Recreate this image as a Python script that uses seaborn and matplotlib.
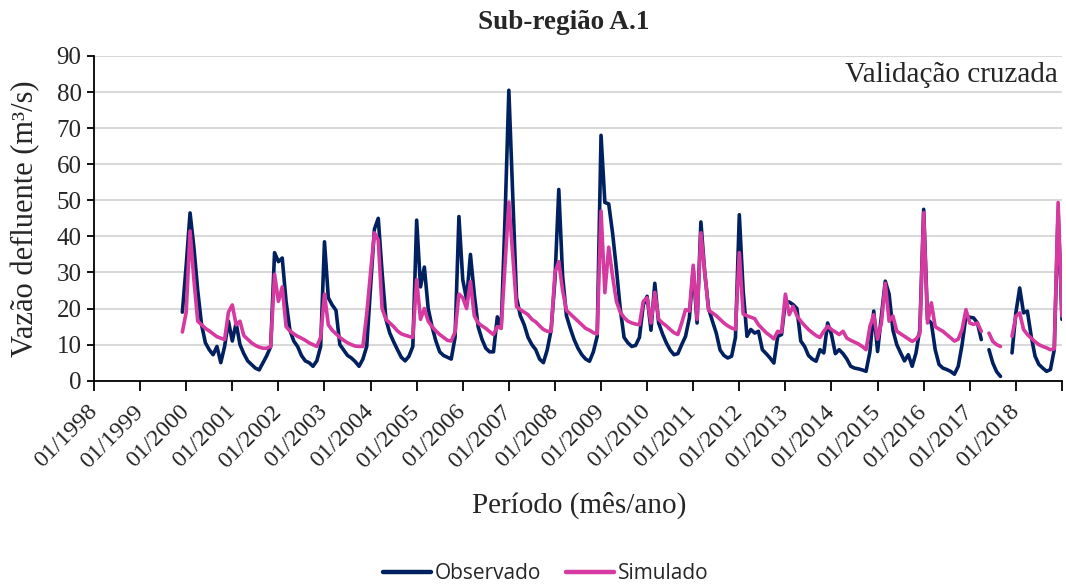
import numpy as np
import pandas as pd
import matplotlib
matplotlib.use("Agg")
import matplotlib.pyplot as plt
from matplotlib.lines import Line2D
import seaborn as sns

nan = np.nan

# Monthly discharge (m³/s), Dec/1999 .. Jan/2019; NaN = missing month
observado = [
    19,
    32, 46.5, 37, 25, 15.5, 10.5, 8.6, 7.2, 9.5, 5, 9.5, 16.5,          # 2000
    11, 16, 10, 7.5, 5.5, 4.5, 3.5, 3, 5, 7, 9.5, 35.5,                  # 2001
    33, 34, 22, 14, 11, 9.5, 7, 5.5, 5, 4, 5.5, 9.5,                     # 2002
    38.5, 23, 21, 19.5, 10, 8.5, 7, 6.3, 5.3, 4, 6, 9.5,                 # 2003
    26, 42, 45, 30, 17, 13.2, 10.8, 8.6, 6.5, 5.5, 6.8, 9.5,             # 2004
    44.5, 26, 31.5, 20, 15, 11, 8, 7, 6.5, 6, 12, 45.5,                  # 2005
    28, 22.5, 35, 24, 15, 11.5, 9, 8, 8, 17.7, 14.6, 45,                 # 2006
    80.5, 52, 23, 18, 15.5, 12, 10, 8.6, 6, 5, 8.6, 14,                  # 2007
    28, 53, 29, 18, 14.5, 11.4, 9, 7.2, 6, 5.4, 8, 12.3,                 # 2008
    68, 49.4, 49, 41, 31, 20, 12, 10.5, 9.5, 9.8, 12, 21,                # 2009
    23.4, 14, 27, 16, 13, 10.5, 8.5, 7.2, 7.5, 10, 12.3, 17.4,           # 2010
    31, 16, 44, 30, 20, 16.5, 13.2, 8.5, 7, 6.3, 6.8, 12,                # 2011
    46, 25, 12.3, 14.2, 13.2, 13.7, 8.6, 7.5, 6.3, 4.9, 12.3, 12.8,      # 2012
    22, 21.8, 21.1, 20, 11, 9.5, 7, 6, 5.4, 8.6, 7.7, 16,                # 2013
    12.8, 7.5, 8.6, 7.5, 6, 4, 3.5, 3.3, 3, 2.6, 8, 19.3,                # 2014
    8.1, 18, 27.6, 24, 14, 10, 7.7, 5.5, 7.2, 4, 7.7, 14.2,              # 2015
    47.5, 17, 16, 8.6, 4.5, 3.5, 3.1, 2.6, 1.8, 4, 10, 17.9,             # 2016
    17.6, 17.4, 16, 11.4, nan, 8.6, 4.9, 2.5, 1.2, nan, nan, 7.7,        # 2017
    18.8, 25.7, 18.8, 19.3, 12.3, 6.8, 4.5, 3.5, 2.6, 3.1, 8.6, 47,      # 2018
    17,
]

simulado = [
    13.5,
    19, 41.5, 28, 16.5, 15.5, 14.5, 13.8, 13, 12.2, 11.8, 11.4, 19,      # 2000
    21, 15.5, 16.5, 12.5, 11.5, 10.5, 9.8, 9.3, 9, 9, 9.5, 29.5,         # 2001
    22, 26, 15, 13.8, 13, 12.3, 11.8, 11.2, 10.5, 10, 9.5, 12,           # 2002
    24, 15.5, 14, 13, 12, 11.2, 10.5, 10, 9.6, 9.5, 9.5, 18.5,           # 2003
    30, 41, 39, 20, 17, 16, 15, 13.8, 13, 12.6, 12.3, 12,                # 2004
    28, 17, 20, 16.5, 15, 13.8, 12.8, 12, 11.2, 11, 13.5, 24,            # 2005
    23, 20, 27.5, 18, 16, 15.2, 14.5, 13.6, 12.8, 15, 14.5, 32,          # 2006
    49.5, 35, 20.5, 19.7, 19, 18.3, 17, 16.3, 15.2, 14.2, 13.7, 13.7,    # 2007
    30, 33, 25, 19.5, 18.5, 17.5, 16.5, 15.5, 14.5, 14, 13.3, 13,        # 2008
    47, 24.4, 37, 29, 22, 19, 17.5, 16.5, 16, 15.7, 15.5, 22,            # 2009
    23, 16, 24.5, 17, 16, 15.2, 14.2, 13.3, 12.8, 16, 19.7, 19.3,        # 2010
    32, 17, 41, 30, 19.5, 18.8, 18, 17, 16, 15.2, 14.6, 14.2,            # 2011
    35.5, 18.5, 18, 17.6, 17.2, 15.5, 14.4, 13.3, 12.5, 11.6, 13.7, 13.5,  # 2012
    24, 18.3, 20.6, 18, 16.5, 15.3, 14.2, 13.3, 12.5, 12, 13.7, 15.1,    # 2013
    14.2, 13.5, 12.8, 13.7, 11.8, 11.2, 10.7, 10.2, 9.5, 8.6, 15, 18.3,  # 2014
    11.5, 16, 27, 16.5, 17.9, 13.7, 13, 12.3, 11.6, 10.9, 11.5, 13,      # 2015
    46.6, 16, 21.6, 15, 14.3, 13.7, 12.8, 11.9, 11, 11.5, 14.2, 19.7,    # 2016
    16, 15.6, 16, 13.7, nan, 13.2, 10.9, 10, 9.5, nan, nan, 12.3,        # 2017
    17.9, 18.8, 14.2, 12.8, 11.8, 10.8, 10, 9.5, 9.1, 8.6, 8.8, 49.4,    # 2018
    17.9,
]

series_names = ["Observado", "Simulado"]
series_colors = ["#002060", "#D6399F"]
first_month = 23          # Dec/1999, counted in months from Jan/1998
tick_labels = ["01/1998", "01/1999", "01/2000", "01/2001", "01/2002", "01/2003",
               "01/2004", "01/2005", "01/2006", "01/2007", "01/2008", "01/2009",
               "01/2010", "01/2011", "01/2012", "01/2013", "01/2014", "01/2015",
               "01/2016", "01/2017", "01/2018", ""]

# Long table; each run of valid months becomes its own unit so gaps stay open
frames = []
for name, vals in zip(series_names, [observado, simulado]):
    v = np.asarray(vals, dtype=float)
    mes = first_month + np.arange(len(v))
    trecho = np.cumsum(np.isnan(v))
    d = pd.DataFrame({"mes": mes, "vazao": v, "serie": name,
                      "trecho": [f"{name}-{t}" for t in trecho]})
    frames.append(d.dropna())
df = pd.concat(frames, ignore_index=True)

sns.set_style("white")
plt.rcParams["font.family"] = ["Liberation Serif", "DejaVu Serif"]

fig = plt.figure(figsize=(10.66, 5.85), dpi=100)
ax = fig.add_axes([0.0882, 0.3492, 0.908, 0.5551])

sns.lineplot(data=df, x="mes", y="vazao", hue="serie", units="trecho",
             estimator=None, palette=dict(zip(series_names, series_colors)),
             hue_order=series_names, linewidth=2.6, legend=False, ax=ax)

ax.set_xlim(0, 252)
ax.set_ylim(0, 90)
ax.set_yticks(range(0, 91, 10))
ax.set_xticks(range(0, 253, 12))
ax.set_xticklabels(tick_labels, rotation=45, ha="right", va="center",
                   rotation_mode="anchor", fontsize=17.5)
ax.tick_params(axis="y", labelsize=18, direction="out", length=5, width=1.3,
               color="black", pad=4, left=True)
ax.tick_params(axis="x", direction="out", length=7, width=1.3, color="black",
               pad=13, bottom=True)
ax.grid(axis="y", color="#d9d9d9", linewidth=1.5)
ax.set_axisbelow(True)
for s in ["top", "right"]:
    ax.spines[s].set_visible(False)
for s in ["left", "bottom"]:
    ax.spines[s].set_color("black")
    ax.spines[s].set_linewidth(1.3)
ax.set_xlabel("")
ax.set_ylabel("")

fig.text(0.529, 0.961, "Sub-região A.1", ha="center", va="center",
         fontsize=19.5, fontweight="bold")
fig.text(0.9925, 0.872, "Validação cruzada", ha="right", va="center", fontsize=21)
fig.text(0.024, 0.627, "Vazão defluente (m³/s)", ha="center", va="center",
         rotation=90, fontsize=22)
fig.text(0.543, 0.137, "Período (mês/ano)", ha="center", va="center", fontsize=21)

handles = [Line2D([], [], color=c, linewidth=3.2) for c in series_colors]
fig.legend(handles, series_names, loc="center", bbox_to_anchor=(0.512, 0.02),
           ncol=2, frameon=False, handlelength=2.3, handletextpad=0.2,
           columnspacing=1.2, prop={"family": "Open Sans", "size": 15})

fig.savefig("out.png", dpi=100)
